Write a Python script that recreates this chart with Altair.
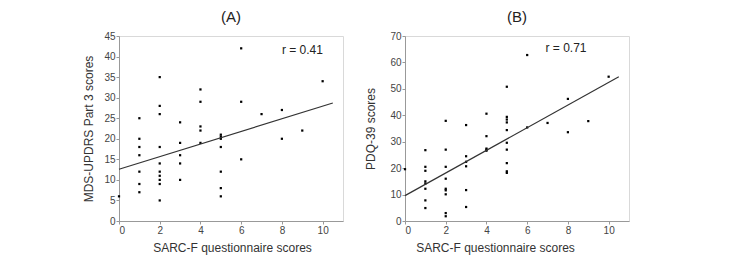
import altair as alt
import pandas as pd

# Panel A: SARC-F vs MDS-UPDRS Part 3
a_x = [0, 1, 1, 1, 1, 1, 1, 1,
       2, 2, 2, 2, 2, 2, 2, 2, 2, 2,
       3, 3, 3, 3, 3,
       4, 4, 4, 4, 4,
       5, 5, 5, 5, 5, 5, 5,
       6, 6, 6, 7, 8, 8, 9, 10]
a_y = [6, 25, 20, 18, 16, 12, 9, 7,
       35, 28, 26, 18, 14, 12, 11, 10, 9, 5,
       24, 19, 16, 14, 10,
       32, 29, 23, 22, 19,
       21, 20.5, 20, 18, 12, 8, 6,
       42, 29, 15, 26, 27, 20, 22, 34]

# Panel B: SARC-F vs PDQ-39
b_x = [0, 1, 1, 1, 1, 1, 1, 1, 1,
       2, 2, 2, 2, 2, 2, 2, 2, 2,
       3, 3, 3, 3, 3, 3,
       4, 4, 4, 4, 4,
       5, 5, 5, 5, 5, 5, 5, 5, 5, 5,
       6, 6, 7, 8, 8, 9, 10]
b_y = [19.6, 26.8, 20.5, 19, 15, 14.2, 12.2, 7.8, 4.9,
       37.9, 27, 20.5, 16, 12.2, 11.6, 10.1, 3, 1.8,
       36.3, 24.5, 22.4, 20.7, 11.7, 5.3,
       40.6, 32.1, 27.4, 27, 26.6,
       50.8, 39.4, 38.4, 37.3, 34.4, 29.6, 27, 21.9, 18.8, 18.2,
       62.8, 35.4, 37.1, 46.2, 33.6, 37.8, 54.6]

# Fitted lines (endpoints)
fit_x = [0, 10.5]
fit_a = [12.6, 28.7]
fit_b = [9.6, 54.6]

# Annotations
r_a = {"x": [8.0], "y": [41.6], "t": ["r = 0.41"]}
r_b = {"x": [6.9], "y": [65.3], "t": ["r = 0.71"]}

x_ticks = [0, 2, 4, 6, 8, 10]
a_ticks = [0, 5, 10, 15, 20, 25, 30, 35, 40, 45]
b_ticks = [0, 10, 20, 30, 40, 50, 60, 70]

FONT = "Liberation Sans"
W, H = 224, 185


def panel(xs, ys, fy, rt, ymax, yticks, ytitle, title, ytitlepad, xtitlex):
    pts = pd.DataFrame({"x": xs, "y": ys})
    fit = pd.DataFrame({"x": fit_x, "y": fy})
    txt = pd.DataFrame(rt)
    xenc = alt.X("x:Q", scale=alt.Scale(domain=[0, 11], nice=False),
                 axis=alt.Axis(values=x_ticks, title="SARC-F questionnaire scores",
                               titleX=xtitlex, labelOverlap=False))
    yenc = alt.Y("y:Q", scale=alt.Scale(domain=[0, ymax], nice=False),
                 axis=alt.Axis(values=yticks, title=ytitle, titlePadding=ytitlepad,
                               labelOverlap=False, tickCount=len(yticks)))
    p = alt.Chart(pts).mark_square(size=5, color="black", opacity=1).encode(x=xenc, y=yenc)
    l = alt.Chart(fit).mark_line(color="#333333", strokeWidth=1.2).encode(x=xenc, y=yenc)
    t = alt.Chart(txt).mark_text(align="left", baseline="middle", font=FONT,
                                 fontSize=12, color="#222222").encode(
        x=xenc, y=yenc, text="t:N")
    return alt.layer(p, l, t).properties(
        width=W, height=H,
        title=alt.TitleParams(title, fontSize=15, font=FONT, fontWeight="normal",
                              color="#222222", offset=6))


ca = panel(a_x, a_y, fit_a, r_a, 45, a_ticks, "MDS-UPDRS  Part 3 scores", "(A)", 8, 113)
cb = panel(b_x, b_y, fit_b, r_b, 70, b_ticks, "PDQ-39 scores", "(B)", 12, 90)

chart = alt.hconcat(ca, cb, spacing=20).properties(
    padding={"left": 82, "top": 9, "right": 5, "bottom": 5},
    background="white"
).configure_view(stroke="#d9d9d9", strokeWidth=1).configure_axis(
    grid=False, domainColor="#999999", tickColor="#999999", tickSize=3,
    labelPadding=1, labelColor="#444444", labelFont=FONT, labelFontSize=10,
    titleFont=FONT, titleFontSize=12, titleFontWeight="normal", titleColor="#333333"
).configure_axisX(titlePadding=7)

chart.save("out.html", embed_options={"renderer": "svg", "actions": False})
